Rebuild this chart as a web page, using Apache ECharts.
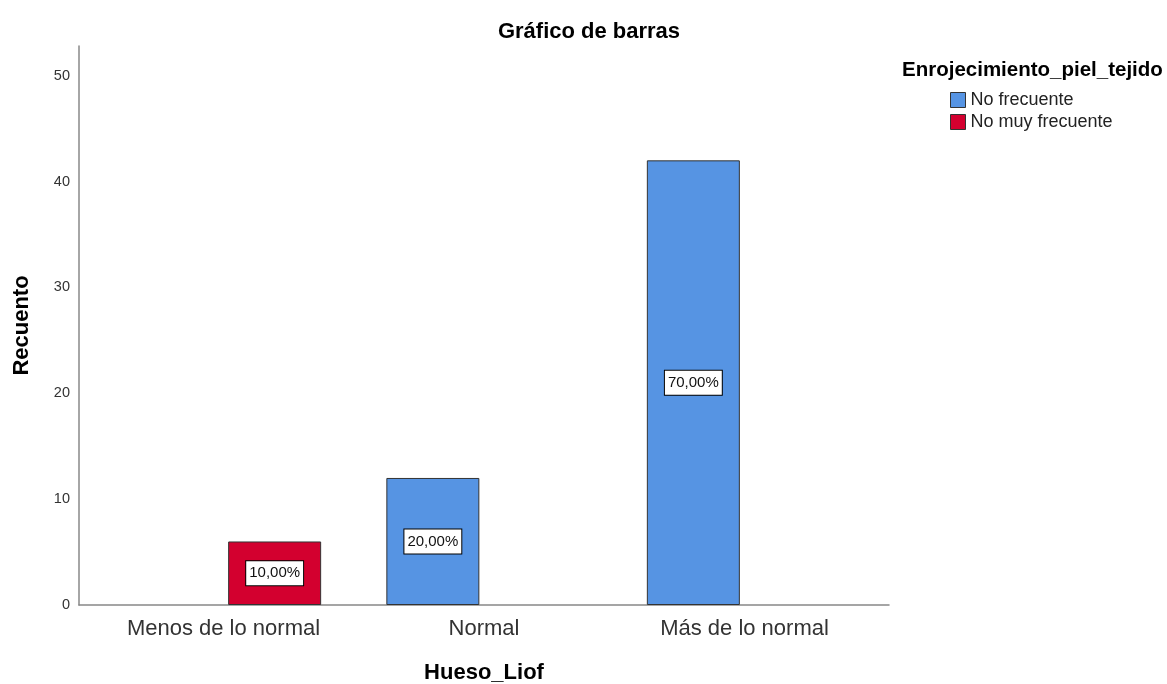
<!DOCTYPE html>
<html>
<head>
<meta charset="utf-8">
<script src="https://cdn.jsdelivr.net/npm/echarts@6/dist/echarts.min.js"></script>
<style>
  html, body { margin: 0; padding: 0; background: #fff; }
  #chart { width: 1167px; height: 684px; }
</style>
</head>
<body>
<div id="chart"></div>
<script>
// categories and counts
const categories = ['Menos de lo normal', 'Normal', 'Más de lo normal']
const seriesNames = ['No frecuente', 'No muy frecuente']
const noFrecuente = [0, 12, 42]
const noMuyFrecuente = [6, 0, 0]
const yTicks = [0, 10, 20, 30, 40, 50]

const total = noFrecuente.concat(noMuyFrecuente).reduce((a, b) => a + b, 0)
const font = '"Liberation Sans", Arial, sans-serif'

function pct(v) {
  return (v / total * 100).toFixed(2).replace('.', ',') + '%'
}

function makeSeries(name, values, color) {
  return {
    name: name,
    type: 'bar',
    xAxisIndex: 1,
    yAxisIndex: 1,
    barWidth: 93,
    barGap: '10%',
    data: values.map(v => (v === 0 ? '-' : v)),
    itemStyle: { color: color, borderColor: '#333', borderWidth: 1 },
    label: {
      show: true,
      position: 'inside',
      formatter: p => pct(p.value),
      color: '#111',
      fontFamily: font,
      fontSize: 15,
      backgroundColor: '#fff',
      borderColor: '#000',
      borderWidth: 1,
      padding: [5, 3, 4, 3]
    }
  }
}

const chart = echarts.init(document.getElementById('chart'))
const yMax = 52.8

chart.setOption({
  animation: false,
  color: ['#5694e3', '#d3002f'],
  title: [
    {
      text: 'Gráfico de barras',
      left: 584,
      top: 16,
      textAlign: 'center',
      textStyle: { fontFamily: font, fontSize: 22, fontWeight: 'bold', color: '#000' }
    },
    {
      text: 'Enrojecimiento_piel_tejido',
      left: 897,
      top: 55,
      textStyle: { fontFamily: font, fontSize: 20.5, fontWeight: 'bold', color: '#000' }
    }
  ],
  legend: {
    orient: 'vertical',
    left: 945,
    top: 86,
    itemWidth: 15,
    itemHeight: 15,
    itemGap: 4,
    icon: 'rect',
    data: seriesNames,
    textStyle: { fontFamily: font, fontSize: 18, color: '#222' },
    itemStyle: { borderColor: '#333', borderWidth: 1 }
  },
  grid: [
    { left: 79, top: 46, width: 810, height: 559, outerBoundsMode: 'none', containLabel: false },
    { left: 93.25, top: 46, width: 781.5, height: 559, outerBoundsMode: 'none', containLabel: false }
  ],
  xAxis: [
    {
      type: 'value',
      gridIndex: 0,
      min: 0,
      max: 1,
      axisLine: { show: true, lineStyle: { color: '#888', width: 1.5 } },
      axisTick: { show: false },
      axisLabel: { show: false },
      splitLine: { show: false },
      name: 'Hueso_Liof',
      nameLocation: 'middle',
      nameGap: 57,
      nameTextStyle: { fontFamily: font, fontSize: 22, fontWeight: 'bold', color: '#000' }
    },
    {
      type: 'category',
      gridIndex: 1,
      data: categories,
      axisLine: { show: false },
      axisTick: { show: false },
      axisLabel: { fontFamily: font, fontSize: 22, color: '#333', margin: 13 }
    }
  ],
  yAxis: [
    {
      type: 'value',
      gridIndex: 0,
      min: 0,
      max: yMax,
      interval: 10,
      axisLine: { show: true, lineStyle: { color: '#888', width: 1.5 } },
      axisTick: { show: false },
      splitLine: { show: false },
      axisLabel: {
        fontFamily: font,
        fontSize: 14.5,
        color: '#333',
        margin: 9,
        formatter: v => (yTicks.includes(v) ? String(v) : '')
      },
      name: 'Recuento',
      nameLocation: 'middle',
      nameGap: 46,
      nameTextStyle: { fontFamily: font, fontSize: 22, fontWeight: 'bold', color: '#000' }
    },
    {
      type: 'value',
      gridIndex: 1,
      min: 0,
      max: yMax,
      show: false
    }
  ],
  series: [
    makeSeries(seriesNames[0], noFrecuente, '#5694e3'),
    makeSeries(seriesNames[1], noMuyFrecuente, '#d3002f')
  ]
})
</script>
</body>
</html>
